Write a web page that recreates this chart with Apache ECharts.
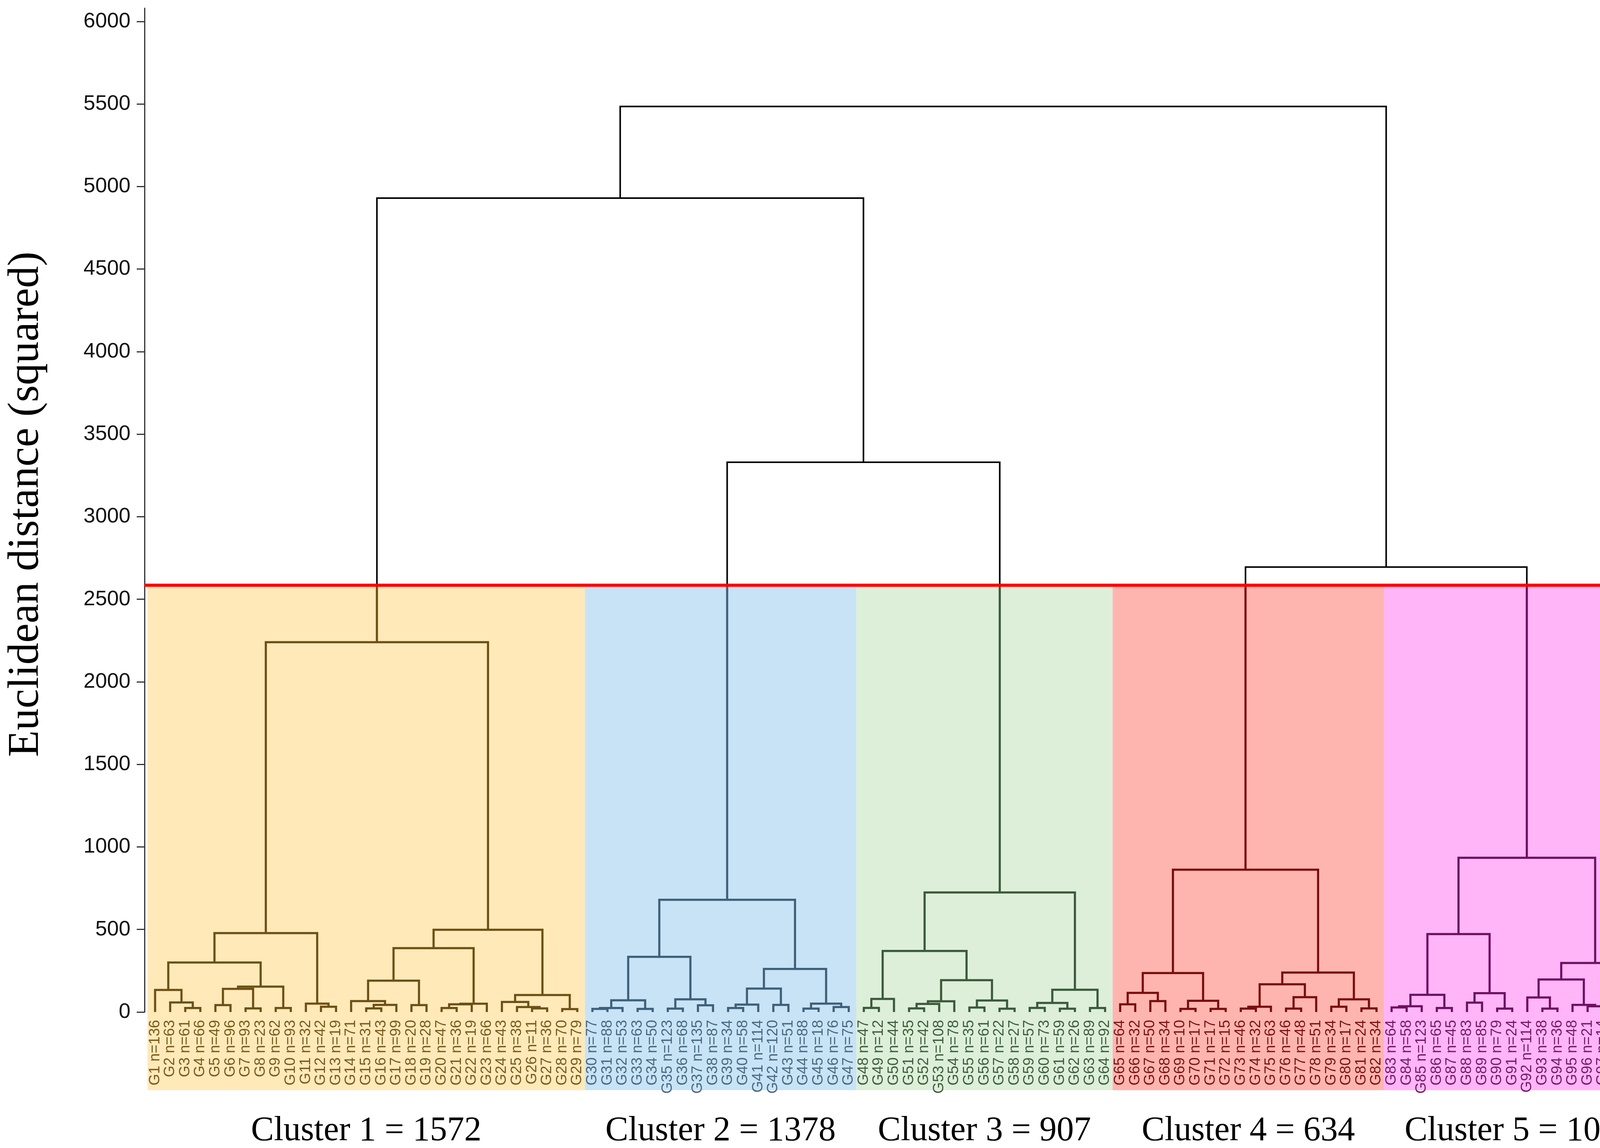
<!DOCTYPE html>
<html>
<head>
<meta charset="utf-8">
<script src="https://cdn.jsdelivr.net/npm/echarts@6/dist/echarts.min.js"></script>
<style>html,body{margin:0;padding:0;background:#fff}#c{width:4273px;height:2938px}</style>
</head>
<body>
<div id="c"></div>
<script>
// ---------------- data ----------------
const leafNames = ['G1','G2','G3','G4','G5','G6','G7','G8','G9','G10','G11','G12','G13','G14','G15','G16','G17','G18','G19','G20',
  'G21','G22','G23','G24','G25','G26','G27','G28','G29','G30','G31','G32','G33','G34','G35','G36','G37','G38','G39','G40',
  'G41','G42','G43','G44','G45','G46','G47','G48','G49','G50','G51','G52','G53','G54','G55','G56','G57','G58','G59','G60',
  'G61','G62','G63','G64','G65','G66','G67','G68','G69','G70','G71','G72','G73','G74','G75','G76','G77','G78','G79','G80',
  'G81','G82','G83','G84','G85','G86','G87','G88','G89','G90','G91','G92','G93','G94','G95','G96','G97','G98','G99','G100'];
const leafN = [136,63,61,66,49,96,93,23,62,93,32,42,19,71,31,43,99,20,28,47,
  36,19,66,43,38,11,36,70,79,77,88,53,63,50,123,68,135,87,34,58,
  114,120,51,88,18,76,75,47,12,44,35,42,108,78,35,61,22,27,57,73,
  59,26,89,92,64,32,50,34,10,17,17,15,46,32,63,46,48,51,34,17,
  24,34,64,58,123,65,45,83,85,79,24,114,38,36,48,21,14,32,36,40];

const clusterNames = ['Cluster 1','Cluster 2','Cluster 3','Cluster 4','Cluster 5'];
const clusterSizes = [1572,1378,907,634,1005];
const clusterLeafCounts = [29,18,17,18,18];

const yTicks = [0,500,1000,1500,2000,2500,3000,3500,4000,4500,5000,5500,6000];
const cutHeight = 2585;

// merge trees: [left, right, height]; numbers = leaf position (1..100)
const cluster1Tree = [
  [
    [
      [1, [2, [3, 4, 24], 58], 134],
      [[[5, 6, 42], [7, 8, 22], 140], [9, 10, 24], 154],
      300
    ],
    [11, [12, 13, 32], 51],
    478
  ],
  [
    [
      [[14, [[15, 16, 22], 17, 43], 66], [18, 19, 42], 190],
      [[[20, 21, 24], 22, 47], 23, 50],
      387
    ],
    [[24, [25, [26, 27, 22], 30], 61], [28, 29, 18], 103],
    498
  ],
  2240
];
const cluster2Tree = [
  [[[[30, 31, 19], 32, 24], [33, 34, 19], 71], [[35, 36, 21], [37, 38, 41], 77], 334],
  [[[[39, 40, 24], 41, 45], [42, 43, 43], 142], [[44, 45, 21], [46, 47, 30], 51], 261],
  680
];
const cluster3Tree = [
  [[[48, 49, 25], 50, 79], [[[[51, 52, 22], 53, 49], 54, 65], [[55, 56, 27], [57, 58, 20], 70], 193], 370],
  [[[59, 60, 25], [61, 62, 20], 55], [63, 64, 24], 135],
  724
];
const cluster4Tree = [
  [[[65, 66, 47], [67, 68, 66], 116], [[69, 70, 19], [71, 72, 19], 68], 236],
  [[[[73, 74, 21], 75, 32], [[76, 77, 21], 78, 90], 168], [[79, 80, 32], [81, 82, 22], 77], 239],
  862
];
const cluster5Tree = [
  [[[[83, 84, 28], 85, 35], [86, 87, 24], 104], [[88, 89, 57], [90, 91, 21], 114], 472],
  [[[92, [93, 94, 21], 88], [95, [96, 97, 35], 43], 197], [98, [99, 100, 26], 44], 297],
  934
];
// upper joins (above the cut): C2+C3, C1+(C2,C3), C4+C5, root
const upperHeights = [3330, 4930, 2695, 5485];

// ---------------- styles ----------------
const lineColors = ['#6E5014','#3F6079','#3B5A3B','#7A0D0D','#6E1060'];
const labelColors = ['#7A5C1E','#4A6A82','#3F5F3F','#7E1414','#781A68'];
const fillColors = ['#FFE9B9','#C8E3F6','#DDEFD9','#FFB5AF','#FFB5F8'];

// ---------------- build nodes ----------------
const nodes = []; // [xL, hL, xR, hR, h, nodeColor(-1 upper), legColorL, legColorR]
function build(node, ci) {
  if (typeof node === 'number') return {x: node, h: 0};
  const L = build(node[0], ci), R = build(node[1], ci);
  nodes.push([L.x, L.h, R.x, R.h, node[2], ci, -1, -1]);
  return {x: (L.x + R.x) / 2, h: node[2]};
}
const clusterTrees = [cluster1Tree, cluster2Tree, cluster3Tree, cluster4Tree, cluster5Tree];
const roots = clusterTrees.map((t, i) => Object.assign(build(t, i), {ci: i}));
function join(L, R, h) {
  nodes.push([L.x, L.h, R.x, R.h, h, -1, L.ci === undefined ? -1 : L.ci, R.ci === undefined ? -1 : R.ci]);
  return {x: (L.x + R.x) / 2, h: h};
}
const n23 = join(roots[1], roots[2], upperHeights[0]);
const n123 = join(roots[0], n23, upperHeights[1]);
const n45 = join(roots[3], roots[4], upperHeights[2]);
join(n123, n45, upperHeights[3]);

// cluster ranges
const clusterRanges = [];
let start = 1;
clusterLeafCounts.forEach((c, i) => { clusterRanges.push([start, start + c - 1, i]); start += c; });
const leafData = leafNames.map((n, i) => [i + 1, 0]);
const leafCluster = [];
clusterRanges.forEach(r => { for (let k = r[0]; k <= r[1]; k++) leafCluster[k - 1] = r[2]; });

// ---------------- chart ----------------
const chart = echarts.init(document.getElementById('c'), null, {renderer: 'canvas', width: 4273, height: 2938});
const LW = 5.5;
const option = {
  backgroundColor: '#ffffff',
  animation: false,
  grid: {left: 370, right: 35, top: 21, bottom: 348, containLabel: false, outerBoundsMode: 'none'},
  xAxis: {type: 'value', min: 0.3, max: 100.5, show: false},
  yAxis: {
    type: 'value', min: 0, max: 6080,
    axisLine: {show: true, onZero: false, lineStyle: {color: '#333', width: 3}},
    axisTick: {show: true, length: 20, customValues: yTicks, lineStyle: {color: '#333', width: 3}},
    axisLabel: {customValues: yTicks, margin: 36, fontSize: 54, fontFamily: 'Liberation Sans', color: '#111',
      formatter: v => String(v)},
    splitLine: {show: false},
    name: 'Euclidean distance (squared)', nameLocation: 'middle', nameGap: 246,
    nameTextStyle: {fontFamily: 'Liberation Serif', fontSize: 112, color: '#000', padding: [0, 0, 0, 30]}
  },
  series: [
    { // background cluster boxes
      type: 'custom', z: 1, clip: false,
      data: clusterRanges,
      renderItem: (params, api) => {
        const a = api.coord([api.value(0) - 0.5, cutHeight]);
        const b = api.coord([api.value(1) + 0.5, 0]);
        const ci = api.value(2);
        return {type: 'rect', shape: {x: a[0], y: a[1], width: b[0] - a[0], height: b[1] + 200 - a[1]},
          style: {fill: fillColors[ci]}};
      }
    },
    { // dendrogram links
      type: 'custom', z: 3, clip: false,
      data: nodes,
      renderItem: (params, api) => {
        const xL = api.value(0), hL = api.value(1), xR = api.value(2), hR = api.value(3), h = api.value(4);
        const ci = api.value(5), cl = api.value(6), cr = api.value(7);
        const children = [];
        if (ci >= 0) {
          const pts = [[xL, hL], [xL, h], [xR, h], [xR, hR]].map(p => api.coord(p));
          children.push({type: 'polyline', shape: {points: pts},
            style: {stroke: lineColors[ci], lineWidth: LW, fill: null, lineJoin: 'miter', lineCap: 'butt'}});
        } else {
          const topL = cl >= 0 ? cutHeight : hL, topR = cr >= 0 ? cutHeight : hR;
          const pts = [[xL, topL], [xL, h], [xR, h], [xR, topR]].map(p => api.coord(p));
          children.push({type: 'polyline', shape: {points: pts},
            style: {stroke: '#000', lineWidth: 4, fill: null, lineJoin: 'miter'}});
          if (cl >= 0) {
            const p1 = api.coord([xL, hL]), p2 = api.coord([xL, cutHeight]);
            children.push({type: 'line', shape: {x1: p1[0], y1: p1[1], x2: p2[0], y2: p2[1]},
              style: {stroke: lineColors[cl], lineWidth: LW}});
          }
          if (cr >= 0) {
            const p1 = api.coord([xR, hR]), p2 = api.coord([xR, cutHeight]);
            children.push({type: 'line', shape: {x1: p1[0], y1: p1[1], x2: p2[0], y2: p2[1]},
              style: {stroke: lineColors[cr], lineWidth: LW}});
          }
        }
        return {type: 'group', children: children};
      }
    },
    { // cut line
      type: 'custom', z: 5, clip: false,
      data: [[cutHeight]],
      renderItem: (params, api) => {
        const a = api.coord([0.3, api.value(0)]);
        const b = api.coord([101.2, api.value(0)]);
        return {type: 'line', shape: {x1: a[0], y1: a[1], x2: b[0], y2: b[1]},
          style: {stroke: '#FF0000', lineWidth: 8}};
      }
    },
    { // leaf labels
      type: 'custom', z: 4, clip: false,
      data: leafData,
      renderItem: (params, api) => {
        const i = params.dataIndex;
        const p = api.coord([api.value(0), 0]);
        return {type: 'text', x: p[0], y: p[1] + 20, rotation: Math.PI / 2,
          style: {text: leafNames[i] + ' n=' + leafN[i], fill: labelColors[leafCluster[i]],
            font: '38px "Liberation Sans"', align: 'right', verticalAlign: 'middle'}};
      }
    },
    { // cluster labels
      type: 'custom', z: 4, clip: false,
      data: clusterRanges,
      renderItem: (params, api) => {
        const i = params.dataIndex;
        const p = api.coord([(api.value(0) + api.value(1)) / 2, 0]);
        return {type: 'text', x: p[0], y: p[1] + 305,
          style: {text: clusterNames[i] + ' = ' + clusterSizes[i], fill: '#000',
            font: '88px "Liberation Serif"', align: 'center', verticalAlign: 'middle'}};
      }
    }
  ]
};
chart.setOption(option);
</script>
</body>
</html>
